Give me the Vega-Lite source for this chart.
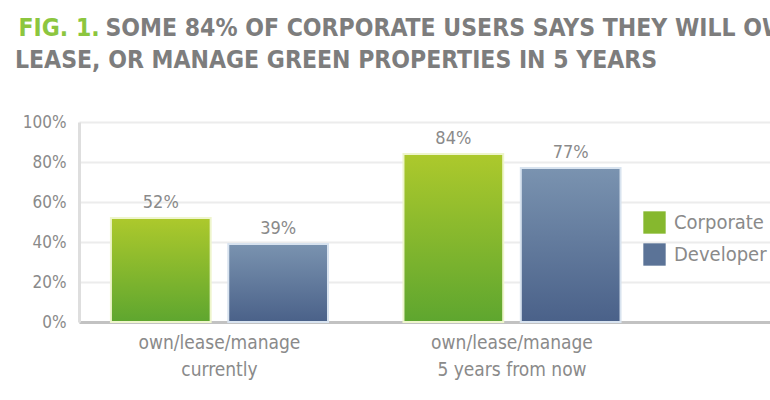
{
  "$schema": "https://vega.github.io/schema/vega-lite/v6.json",
  "width": 691,
  "height": 200,
  "autosize": {"type": "none"},
  "padding": {"left": 79, "top": 122, "right": 0, "bottom": 78},
  "background": "white",
  "title": {
    "text": "LEASE, OR MANAGE GREEN PROPERTIES IN 5 YEARS",
    "anchor": "start",
    "frame": "group",
    "dx": -64,
    "offset": -58,
    "font": "DejaVu Sans Condensed",
    "fontSize": 24.5,
    "fontWeight": "bold",
    "color": "#7d7d7d"
  },
  "data": {
    "values": [
      {"group": "own/lease/manage|currently", "series": "Corporate", "value": 0.52},
      {"group": "own/lease/manage|currently", "series": "Developer", "value": 0.39},
      {"group": "own/lease/manage|5 years from now", "series": "Corporate", "value": 0.84},
      {"group": "own/lease/manage|5 years from now", "series": "Developer", "value": 0.77}
    ]
  },
  "encoding": {
    "x": {
      "field": "group",
      "type": "nominal",
      "sort": null,
      "scale": {"paddingInner": 0.258, "paddingOuter": 0.31, "align": 0.176},
      "axis": {
        "title": "FIG. 1.",
        "titleX": -61,
        "titleY": -287,
        "titleAlign": "left",
        "titleBaseline": "alphabetic",
        "titleAnchor": null,
        "titleAngle": 0,
        "titleColor": "#8cc63f",
        "titleFont": "DejaVu Sans Condensed",
        "titleFontSize": 24.5,
        "titleFontWeight": "bold",
        "labelAngle": 0,
        "labelExpr": "split(datum.label, '|')",
        "labelFont": "DejaVu Sans Condensed",
        "labelFontSize": 19,
        "labelColor": "#8a8a8a",
        "labelPadding": 11,
        "labelLineHeight": 27,
        "ticks": false,
        "domainColor": "#c2c2c2",
        "domainWidth": 3
      }
    },
    "xOffset": {
      "field": "series",
      "type": "nominal",
      "scale": {"domain": ["Corporate", "Developer"], "paddingInner": 0.15}
    },
    "y": {
      "field": "value",
      "type": "quantitative",
      "scale": {"domain": [0, 1]},
      "axis": {
        "title": "SOME 84% OF CORPORATE USERS SAYS THEY WILL OWN,",
        "titleX": 26,
        "titleY": -87,
        "titleAlign": "left",
        "titleBaseline": "alphabetic",
        "titleAnchor": null,
        "titleAngle": 0,
        "titleColor": "#7d7d7d",
        "titleFont": "DejaVu Sans Condensed",
        "titleFontSize": 24.5,
        "titleFontWeight": "bold",
        "values": [0, 0.2, 0.4, 0.6, 0.8, 1],
        "format": ".0%",
        "labelFont": "DejaVu Sans Condensed",
        "labelFontSize": 17,
        "labelColor": "#8a8a8a",
        "labelPadding": 13,
        "ticks": false,
        "domainColor": "#dedede",
        "domainWidth": 3,
        "gridColor": "#ececec",
        "gridWidth": 2
      }
    }
  },
  "layer": [
    {
      "transform": [{"filter": "datum.series === 'Corporate'"}],
      "mark": {
        "type": "bar",
        "stroke": "#eef5cc",
        "strokeWidth": 2,
        "fill": {
          "gradient": "linear",
          "x1": 0, "y1": 0, "x2": 0, "y2": 1,
          "stops": [
            {"offset": 0, "color": "#adc92c"},
            {"offset": 1, "color": "#5ea62f"}
          ]
        }
      },
      "encoding": {
        "color": {
          "field": "series",
          "type": "nominal",
          "scale": {"domain": ["Corporate", "Developer"], "range": ["#86b82e", "#5b7397"]},
          "legend": {
            "title": null,
            "orient": "none",
            "legendX": 564,
            "legendY": 89,
            "symbolType": "square",
            "symbolSize": 500,
            "symbolStrokeWidth": 0,
            "labelFont": "DejaVu Sans Condensed",
            "labelFontSize": 20,
            "labelColor": "#8a8a8a",
            "labelOffset": 8,
            "rowPadding": 9
          }
        }
      }
    },
    {
      "transform": [{"filter": "datum.series === 'Developer'"}],
      "mark": {
        "type": "bar",
        "stroke": "#d8e3ef",
        "strokeWidth": 2,
        "fill": {
          "gradient": "linear",
          "x1": 0, "y1": 0, "x2": 0, "y2": 1,
          "stops": [
            {"offset": 0, "color": "#7a93b0"},
            {"offset": 1, "color": "#4a6189"}
          ]
        }
      },
      "encoding": {
        "color": {"field": "series", "type": "nominal"}
      }
    },
    {
      "mark": {
        "type": "text",
        "baseline": "bottom",
        "dy": -6,
        "font": "DejaVu Sans Condensed",
        "fontSize": 18,
        "color": "#8a8a8a"
      },
      "encoding": {
        "text": {"field": "value", "type": "quantitative", "format": ".0%"}
      }
    }
  ],
  "config": {
    "view": {"stroke": null},
    "font": "DejaVu Sans Condensed"
  }
}
